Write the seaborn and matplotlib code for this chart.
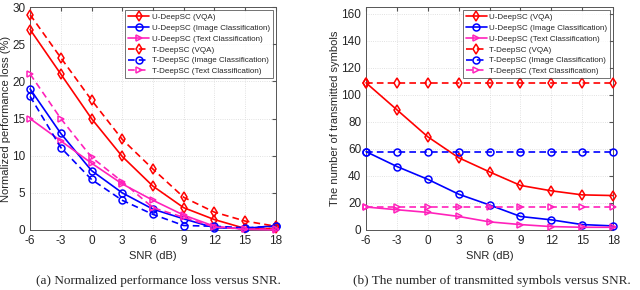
import numpy as np
import pandas as pd
import matplotlib
matplotlib.use("Agg")
import matplotlib.pyplot as plt
import seaborn as sns

snr = [-6, -3, 0, 3, 6, 9, 12, 15, 18]

# (a) normalized performance loss (%)
loss_u_vqa = [27, 21, 15, 9.9, 5.9, 3.0, 1.4, 0.2, 0.2]
loss_u_img = [19, 13, 8, 5, 2.8, 1.5, 0.3, 0.2, 0.6]
loss_u_txt = [15, 12, 9, 6.2, 4, 2, 0.5, 0.1, 0.0]
loss_t_vqa = [29, 23.2, 17.5, 12.2, 8.2, 4.4, 2.4, 1.2, 0.5]
loss_t_img = [18, 11.1, 6.8, 4, 2.1, 0.6, 0.5, 0.3, 0.5]
loss_t_txt = [21, 15, 9.8, 6.5, 3, 1.7, 0.4, 0.1, 0.1]

# (b) number of transmitted symbols
sym_u_vqa = [109, 89, 69, 53.5, 43, 33, 29, 26, 25.5]
sym_u_img = [58, 47, 37.5, 26.5, 18.5, 10, 7.5, 4, 3]
sym_u_txt = [17, 15, 13, 10, 6, 4, 2.5, 2, 2]
sym_t_vqa = [109] * 9
sym_t_img = [58] * 9
sym_t_txt = [17] * 9

labels = ["U-DeepSC (VQA)", "U-DeepSC (Image Classification)", "U-DeepSC (Text Classification)",
          "T-DeepSC (VQA)", "T-DeepSC (Image Classification)", "T-DeepSC (Text Classification)"]

RED, BLUE, MAG = "#ff0000", "#0000ff", "#ff22bb"
styles = [(RED, "d", "-"), (BLUE, "o", "-"), (MAG, ">", "-"),
          (RED, "d", (0, (4, 2.5))), (BLUE, "o", (0, (4, 2.5))), (MAG, ">", (0, (4, 2.5)))]

sns.set_style("white")
plt.rcParams["font.family"] = ["Liberation Sans", "DejaVu Sans"]
plt.rcParams["axes.unicode_minus"] = False

fig = plt.figure(figsize=(6.4, 2.9), dpi=100)
ax1 = fig.add_axes([0.047, 0.207, 0.384, 0.768])
ax2 = fig.add_axes([0.572, 0.207, 0.386, 0.768])


def draw(ax, series, ylim, yticks, ylabel):
    for vals, lab, (c, m, ls) in zip(series, labels, styles):
        df = pd.DataFrame({"snr": snr, "val": vals})
        sns.lineplot(data=df, x="snr", y="val", ax=ax, color=c, linestyle=ls,
                     marker=m, markersize=5, markerfacecolor="none",
                     markeredgecolor=c, markeredgewidth=1.1, lw=1.2, label=lab,
                     clip_on=False, zorder=3)
    ax.set_xlim(-6, 18)
    ax.set_ylim(*ylim)
    ax.set_xticks(snr)
    ax.set_yticks(yticks)
    ax.grid(True, color="#d8d8d8", lw=0.6, ls=":")
    ax.tick_params(direction="in", top=True, right=True, labelsize=8.5, length=3, color="#555555")
    for s in ax.spines.values():
        s.set_color("#555555")
        s.set_linewidth(0.7)
    ax.set_xlabel("SNR (dB)", fontsize=8, labelpad=3)
    ax.set_ylabel(ylabel, fontsize=8, labelpad=1)
    leg = ax.legend(loc="upper right", fontsize=5.8, frameon=True, fancybox=False,
                    edgecolor="#333333", handlelength=2.6, borderpad=0.35,
                    labelspacing=0.4, handletextpad=0.3, borderaxespad=0.4)
    leg.get_frame().set_linewidth(0.6)
    leg.set_zorder(5)


draw(ax1, [loss_u_vqa, loss_u_img, loss_u_txt, loss_t_vqa, loss_t_img, loss_t_txt],
     (0, 30), range(0, 31, 5), "Normalized performance loss (%)")
draw(ax2, [sym_u_vqa, sym_u_img, sym_u_txt, sym_t_vqa, sym_t_img, sym_t_txt],
     (0, 165), range(0, 161, 20), "The number of transmitted symbols")

fig.text(0.248, 0.022, "(a) Normalized performance loss versus SNR.", ha="center",
         fontsize=9.5, family="Liberation Serif")
fig.text(0.768, 0.022, "(b) The number of transmitted symbols versus SNR.", ha="center",
         fontsize=9.5, family="Liberation Serif")

fig.savefig("out.png", dpi=100)
